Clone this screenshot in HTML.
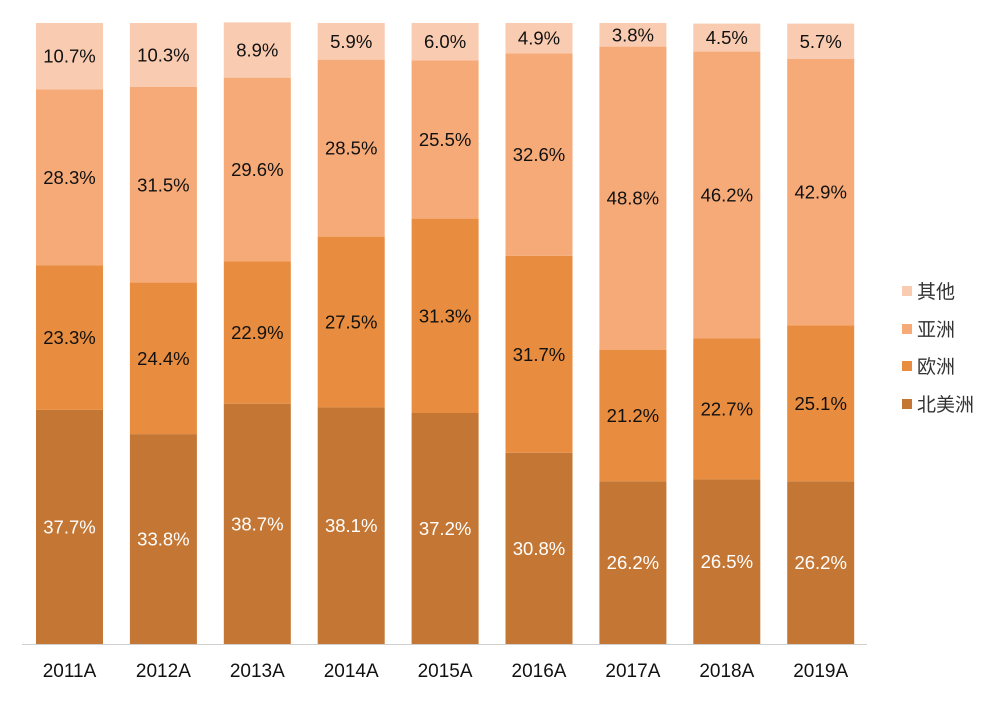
<!DOCTYPE html>
<html><head><meta charset="utf-8"><style>
body{margin:0;background:#fff;width:995px;height:697px;overflow:hidden;font-family:"Liberation Sans","Noto Sans CJK SC",sans-serif}
</style></head><body>
<svg id="chart" width="995" height="697"></svg>
<script>
const categories=["2011A","2012A","2013A","2014A","2015A","2016A","2017A","2018A","2019A"];
const seriesNames=["北美洲","欧洲","亚洲","其他"];
const northAmerica=[37.7,33.8,38.7,38.1,37.2,30.8,26.2,26.5,26.2];
const europe=[23.3,24.4,22.9,27.5,31.3,31.7,21.2,22.7,25.1];
const asia=[28.3,31.5,29.6,28.5,25.5,32.6,48.8,46.2,42.9];
const other=[10.7,10.3,8.9,5.9,6.0,4.9,3.8,4.5,5.7];
const colors=["#C47734","#E88C3F","#F6AA78","#F9CBB0"];
const textColors=["#fff","#111","#111","#111"];
const series=[northAmerica,europe,asia,other];
const NS="http://www.w3.org/2000/svg";
const svg=document.getElementById('chart');
const plotTop=23,plotBottom=644,x0=69.5,step=93.9,bw=67;
const yScale=v=>plotBottom-(v/100)*(plotBottom-plotTop);
const xc=i=>x0+i*step;
function mk(t,a){const e=document.createElementNS(NS,t);for(const k in a)e.setAttribute(k,a[k]);svg.appendChild(e);return e;}
categories.forEach((c,i)=>{
  let cum=0;
  series.forEach((s,j)=>{
    const v=s[i];
    const r=mk('rect',{x:xc(i)-bw/2,y:yScale(cum+v),width:bw,height:yScale(cum)-yScale(cum+v),fill:colors[j]});
    
    
    const t=mk('text',{x:xc(i),y:(yScale(cum)+yScale(cum+v))/2+6.5,'text-anchor':'middle','font-size':18.5,fill:textColors[j]});
    t.textContent=v.toFixed(1)+'%';
    
    
    cum+=v;
  });
  const l=mk('text',{x:xc(i),y:677,'text-anchor':'middle','font-size':19,fill:'#111'});
  l.textContent=c;
  
  
});
const ax=mk('line',{x1:22,x2:867,y1:plotBottom+0.5,y2:plotBottom+0.5,stroke:'#d0d0d0','stroke-width':1});


const ly=[404,366,329,291];
seriesNames.forEach((n,j)=>{
  const r=mk('rect',{x:902,y:ly[j]-5,width:10,height:10,fill:colors[j]});
  
  
  const t=mk('text',{x:917,y:ly[j]+7,'font-size':19,fill:'#333'});
  t.textContent=n;
  
  
});
</script>
</body></html>
